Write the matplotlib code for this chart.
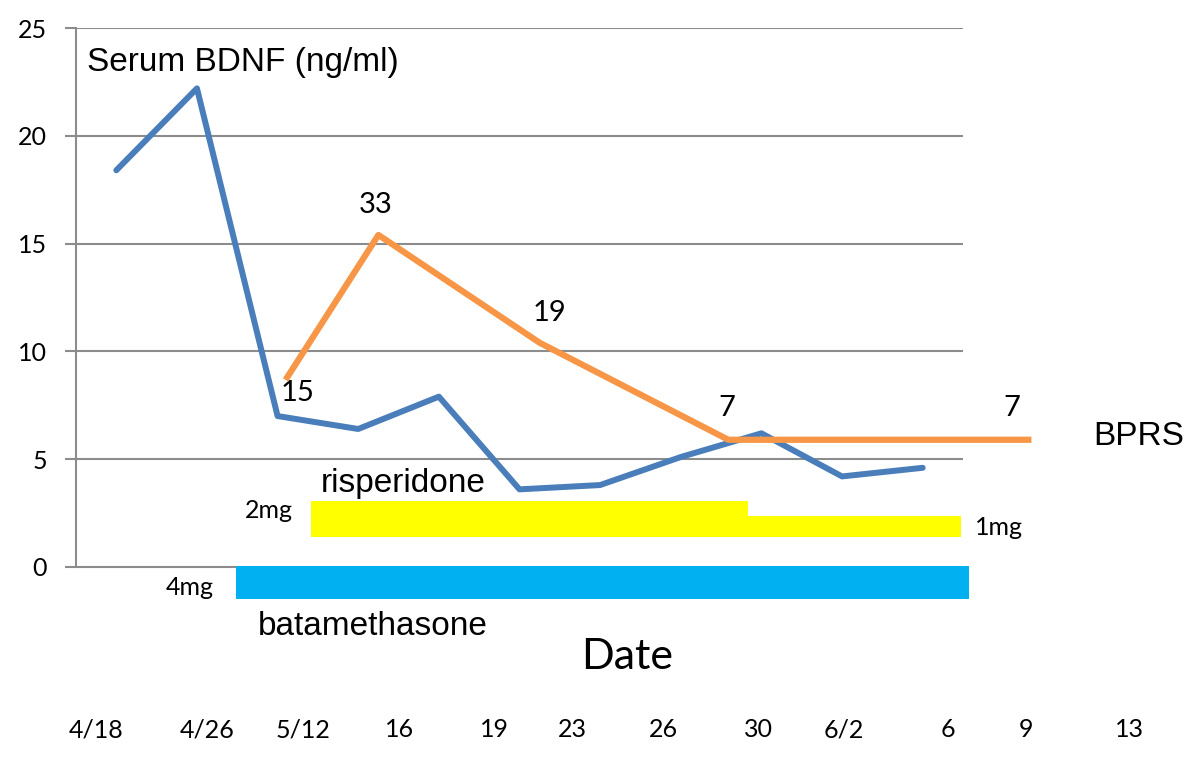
import matplotlib
matplotlib.use("Agg")
import matplotlib.pyplot as plt

# serum BDNF, one value per visit (categorical slots 0..10)
bdnf = [18.4, 22.2, 7.0, 6.4, 7.9, 3.6, 3.8, 5.1, 6.2, 4.2, 4.6]

# BPRS line as drawn on the chart (x in visit slots, y on the BDNF scale)
bprs_x = [2.12, 3.25, 5.25, 7.59, 11.31]
bprs_y = [8.8, 15.4, 10.4, 5.9, 5.9]
bprs_scores = ["15", "33", "19", "7", "7"]
score_x = [2.25, 3.21, 5.37, 7.57, 11.1]
score_y = [8.07, 16.8, 11.78, 7.37, 7.37]

# medication bars
risp_start = [2.41, 7.83]
risp_end = [7.83, 10.48]
risp_top = [3.05, 2.37]
risp_bottom = 1.39
beta_start = 1.49
beta_end = 10.57
beta_top = 0.05
beta_bottom = -1.48

# date labels under the chart
date_labels = ["4/18", "4/26", "5/12", "16", "19", "23", "26", "30", "6/2", "6", "9", "13"]
date_pos = [-0.25, 1.13, 2.31, 3.51, 4.69, 5.65, 6.79, 7.96, 9.02, 10.31, 11.28, 12.56]

ARIAL = "Liberation Sans"
CALIBRI = "Lato"

fig = plt.figure(figsize=(12, 7.63), dpi=100)
ax = fig.add_axes([76 / 1200, 1 - 750 / 763, (963 - 76) / 1200, (750 - 28) / 763])
ax.set_xlim(-0.5, 10.5)
ax.set_ylim(-8.49, 25)

# gridlines and axis
grid_col = "#8c8c8c"
ax.set_yticks(range(0, 26, 5))
ax.set_yticklabels([str(v) for v in range(0, 26, 5)], fontsize=18, fontfamily=CALIBRI)
ax.tick_params(axis="y", length=8, width=1.5, color=grid_col, pad=13)
ax.yaxis.grid(True, color=grid_col, linewidth=1.5)
ax.set_axisbelow(True)
ax.set_xticks([])
for s in ["top", "right", "bottom"]:
    ax.spines[s].set_visible(False)
ax.spines["left"].set_bounds(0, 25)
ax.spines["left"].set_color(grid_col)
ax.spines["left"].set_linewidth(1.5)

# bars
ax.bar(x=risp_start, height=[t - risp_bottom for t in risp_top],
       width=[e - s for s, e in zip(risp_start, risp_end)],
       bottom=risp_bottom, align="edge", color="#FFFF00", zorder=2, clip_on=False)
ax.bar(x=beta_start, height=beta_top - beta_bottom, width=beta_end - beta_start,
       bottom=beta_bottom, align="edge", color="#00B0F0", zorder=2, clip_on=False)

# lines
ax.plot(range(len(bdnf)), bdnf, color="#4A7EBB", linewidth=4.3,
        solid_capstyle="round", zorder=3)
ax.plot(bprs_x, bprs_y, color="#F79646", linewidth=4.5, clip_on=False, zorder=4)

for t, x, y in zip(bprs_scores, score_x, score_y):
    ax.text(x, y, t, fontsize=21, fontfamily=CALIBRI, ha="center", va="center",
            clip_on=False)

ax.text(-0.36, 23.38, "Serum BDNF (ng/ml)", fontsize=24, fontfamily=ARIAL,
        va="center", ha="left")
ax.text(12.11, 6.03, "BPRS", fontsize=24, fontfamily=ARIAL, va="center",
        ha="left", clip_on=False)
ax.text(2.53, 3.85, "risperidone", fontsize=24, fontfamily=ARIAL, va="center")
ax.text(1.75, -2.74, "batamethasone", fontsize=24, fontfamily=ARIAL, va="center")
ax.text(1.59, 2.64, "2mg", fontsize=18, fontfamily=CALIBRI, va="center")
ax.text(10.65, 1.81, "1mg", fontsize=18, fontfamily=CALIBRI, va="center",
        clip_on=False)
ax.text(0.61, -0.97, "4mg", fontsize=18, fontfamily=CALIBRI, va="center")
ax.text(6.34, -4.17, "Date", fontsize=31, fontfamily=CALIBRI, ha="center",
        va="center")

for lab, x in zip(date_labels, date_pos):
    ax.text(x, -7.56, lab, fontsize=18, fontfamily=CALIBRI, ha="center",
            va="center", clip_on=False)

fig.savefig("out.png", dpi=100)
